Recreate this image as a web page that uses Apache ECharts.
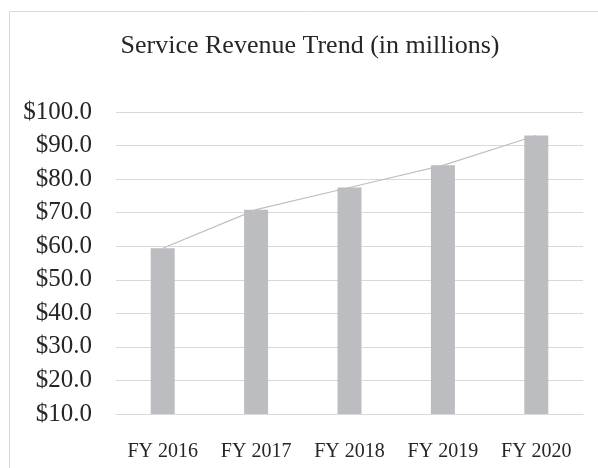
<!DOCTYPE html>
<html>
<head>
<meta charset="utf-8">
<script src="https://cdn.jsdelivr.net/npm/echarts@6/dist/echarts.min.js"></script>
<style>
html,body{margin:0;padding:0;background:#fff;}
#c{width:598px;height:468px;}
</style>
</head>
<body>
<div id="c"></div>
<script>
const categories = ['FY 2016', 'FY 2017', 'FY 2018', 'FY 2019', 'FY 2020'];
const revenue = [59.4, 70.9, 77.5, 84.1, 93.0];
const titleText = 'Service Revenue Trend (in millions)';

const chart = echarts.init(document.getElementById('c'), null, {renderer: 'canvas'});
const serif = '"Liberation Serif", "Times New Roman", serif';
chart.setOption({
  animation: false,
  backgroundColor: '#fff',
  title: {
    text: titleText,
    left: 305, top: 28,
    textAlign: 'center',
    textStyle: {fontFamily: serif, fontSize: 26, fontWeight: 'normal', color: '#262626'}
  },
  graphic: [{
    type: 'rect',
    shape: {x: 9.5, y: 11.5, width: 700, height: 700},
    style: {fill: 'none', stroke: '#d9d9d9', lineWidth: 1},
    silent: true
  }],
  grid: {left: 116, right: 15, top: 112, bottom: 54},
  xAxis: {
    type: 'category',
    data: categories,
    axisLine: {show: true, lineStyle: {color: '#d9d9d9'}},
    axisTick: {show: false},
    axisLabel: {fontFamily: serif, fontSize: 20, color: '#262626', margin: 28}
  },
  yAxis: {
    type: 'value',
    min: 10, max: 100, interval: 10,
    axisLine: {show: false},
    axisTick: {show: false},
    splitLine: {lineStyle: {color: '#d9d9d9', width: 1}},
    axisLabel: {
      fontFamily: serif, fontSize: 25, color: '#262626', margin: 24,
      formatter: v => '$' + v.toFixed(1)
    }
  },
  series: [
    {
      type: 'bar',
      data: revenue,
      barWidth: 24,
      itemStyle: {color: '#bcbdc0'},
      z: 3
    },
    {
      type: 'line',
      data: revenue,
      symbol: 'none',
      lineStyle: {color: '#bfbfbf', width: 1.2},
      z: 2
    }
  ]
});
</script>
</body>
</html>
